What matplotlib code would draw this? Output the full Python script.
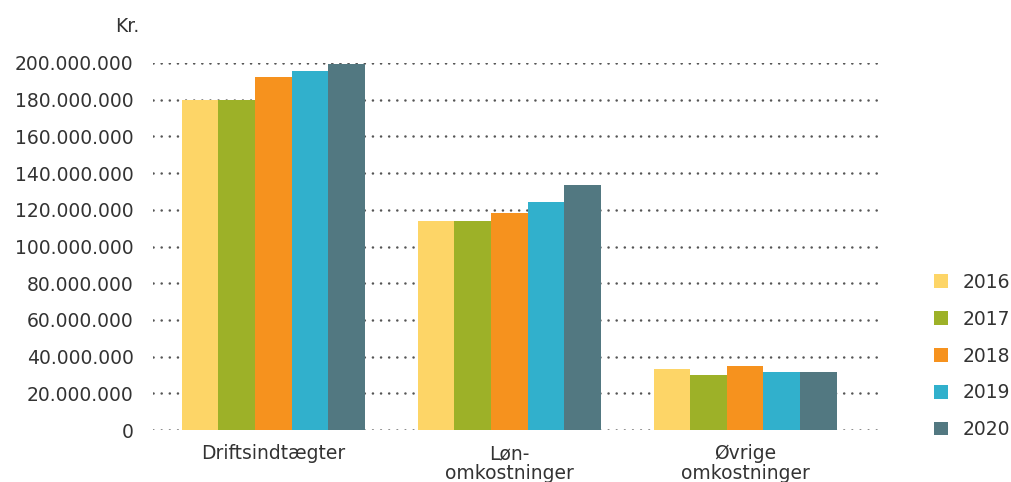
import numpy as np
import matplotlib
matplotlib.use("Agg")
import matplotlib.pyplot as plt
from matplotlib.patches import Patch
from matplotlib.ticker import FuncFormatter

categories = ["Driftsindtægter", "Løn-\nomkostninger", "Øvrige\nomkostninger"]
years = ["2016", "2017", "2018", "2019", "2020"]
values = {
    "2016": [180.0e6, 113.9e6, 33.2e6],
    "2017": [180.0e6, 113.9e6, 30.0e6],
    "2018": [192.4e6, 118.3e6, 34.9e6],
    "2019": [195.6e6, 124.3e6, 31.6e6],
    "2020": [199.6e6, 133.5e6, 31.6e6],
}
colors = ["#FDD567", "#9DB128", "#F6921E", "#31B0CC", "#527881"]
yticks = np.arange(0, 200e6 + 1, 20e6)

plt.rcParams['font.family'] = ['DejaVu Sans']
text_color = "#333333"

fig = plt.figure(figsize=(10.12, 4.82), dpi=100)
ax = fig.add_axes([153 / 1012, 52 / 482, (882 - 153) / 1012, (430 - 63) / 482])

x = np.arange(len(categories))
width = 0.155
for i, yr in enumerate(years):
    offs = (i - 2) * width
    ax.bar(x + offs, values[yr], width=width, color=colors[i], zorder=3,
           clip_on=False, linewidth=0)

ax.set_xlim(-0.51, 2.58)
ax.set_ylim(0, 200e6)
ax.set_yticks(yticks)
ax.yaxis.set_major_formatter(FuncFormatter(lambda v, p: f"{int(v):,}".replace(",", ".")))
ax.set_xticks(x)
ax.set_xticklabels(categories, linespacing=1.1)
ax.tick_params(axis="both", length=0, labelsize=13.5, colors=text_color)
ax.tick_params(axis="y", pad=14)
ax.tick_params(axis="x", pad=10)
for s in ax.spines.values():
    s.set_visible(False)
ax.grid(axis="y", color="#555555", linewidth=1.8, linestyle=(0, (0.05, 3.2)),
        dash_capstyle="round", zorder=0)
ax.set_axisbelow(True)

fig.text(139 / 1012, 1 - 27 / 482, "Kr.", ha="right", va="center",
         fontsize=13.5, color=text_color)

handles = [Patch(facecolor=c, label=y) for c, y in zip(colors, years)]
fig.legend(handles=handles, loc="center left", bbox_to_anchor=(917 / 1012, 1 - 356 / 482),
           frameon=False, fontsize=13.5, handlelength=0.75, handleheight=0.75,
           handletextpad=0.8, labelspacing=0.95, labelcolor=text_color)

fig.savefig("out.png", dpi=100)
